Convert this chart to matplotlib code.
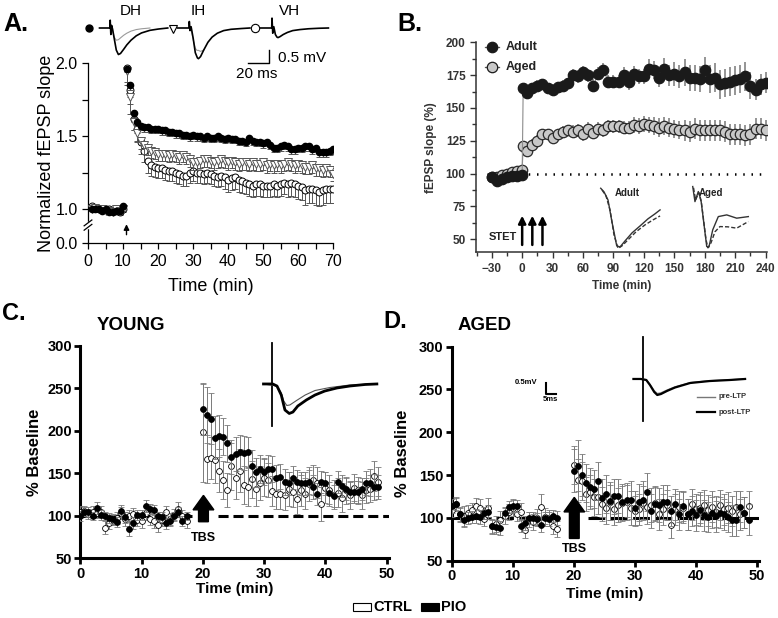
import numpy as np
import matplotlib
matplotlib.use("Agg")
import matplotlib.pyplot as plt
from matplotlib.patches import FancyArrow, Rectangle

plt.rcParams['font.family'] = ['Liberation Sans', 'DejaVu Sans']

W, H = 778, 618

# ---------------- panel A: normalized fEPSP slope, one point per minute
a_time = list(range(1, 71))
a_dh = [1.00, 1.00, 1.00, 0.99, 1.00, 0.98, 0.98, 0.99, 0.99, 1.02,
        1.96, 1.85, 1.66, 1.60,
        1.57, 1.56, 1.56, 1.55, 1.55, 1.55, 1.54, 1.54, 1.53, 1.53,
        1.52, 1.52, 1.51, 1.51, 1.50, 1.51, 1.50, 1.50, 1.49, 1.50,
        1.49, 1.49, 1.50, 1.49, 1.48, 1.49, 1.48, 1.48, 1.47, 1.47,
        1.46, 1.49, 1.47, 1.46, 1.46, 1.45, 1.46, 1.44, 1.42, 1.42,
        1.43, 1.44, 1.43, 1.41, 1.41, 1.42, 1.42, 1.43, 1.43, 1.41,
        1.42, 1.39, 1.39, 1.39, 1.40, 1.41]
a_ih = [1.00, 1.01, 1.00, 1.00, 0.99, 0.99, 0.98, 1.00, 0.99, 1.00,
        1.95, 1.77, 1.60, 1.52,
        1.47, 1.44, 1.42, 1.40, 1.39, 1.38, 1.38, 1.38, 1.37, 1.38,
        1.37, 1.36, 1.37, 1.36, 1.34, 1.32, 1.32, 1.33, 1.34, 1.34,
        1.33, 1.32, 1.33, 1.34, 1.33, 1.32, 1.33, 1.32, 1.31, 1.32,
        1.32, 1.31, 1.32, 1.31, 1.31, 1.32, 1.30, 1.31, 1.30, 1.31,
        1.30, 1.31, 1.32, 1.31, 1.30, 1.31, 1.30, 1.29, 1.29, 1.30,
        1.28, 1.28, 1.27, 1.28, 1.27, 1.24]
a_vh = [1.02, 1.01, 1.00, 1.00, 1.00, 1.00, 0.99, 1.00, 0.98, 1.00,
        1.97, 1.82, 1.62, 1.55,
        1.46, 1.40, 1.33, 1.30, 1.29, 1.28, 1.28, 1.27, 1.26, 1.26,
        1.25, 1.24, 1.23, 1.23, 1.25, 1.26, 1.25, 1.25, 1.24, 1.25,
        1.24, 1.23, 1.22, 1.23, 1.22, 1.20, 1.21, 1.22, 1.20, 1.19,
        1.18, 1.17, 1.16, 1.17, 1.17, 1.16, 1.16, 1.16, 1.17, 1.16,
        1.17, 1.18, 1.17, 1.18, 1.17, 1.16, 1.15, 1.13, 1.14, 1.14,
        1.13, 1.12, 1.13, 1.14, 1.14, 1.14]
# lower error bars only
a_dh_err = [0.01, 0.01, 0.01, 0.01, 0.01, 0.01, 0.01, 0.01, 0.01, 0.01,
            0.02, 0.03, 0.03, 0.03,
            0.03, 0.03, 0.03, 0.03, 0.03, 0.03, 0.03, 0.03, 0.03, 0.03,
            0.03, 0.03, 0.03, 0.03, 0.03, 0.03, 0.03, 0.03, 0.03, 0.03,
            0.03, 0.03, 0.03, 0.03, 0.03, 0.03, 0.03, 0.03, 0.03, 0.03,
            0.03, 0.03, 0.03, 0.03, 0.03, 0.03, 0.03, 0.03, 0.03, 0.03,
            0.03, 0.03, 0.03, 0.03, 0.03, 0.03, 0.03, 0.03, 0.03, 0.03,
            0.03, 0.03, 0.03, 0.03, 0.03, 0.03]
a_ih_err = [0.01, 0.01, 0.01, 0.01, 0.01, 0.01, 0.01, 0.01, 0.01, 0.01,
            0.08, 0.12, 0.06, 0.06,
            0.06, 0.06, 0.05, 0.05, 0.05, 0.05, 0.05, 0.05, 0.05, 0.05,
            0.05, 0.05, 0.05, 0.05, 0.05, 0.05, 0.05, 0.05, 0.05, 0.05,
            0.05, 0.05, 0.05, 0.05, 0.05, 0.05, 0.05, 0.05, 0.05, 0.05,
            0.05, 0.05, 0.05, 0.05, 0.05, 0.05, 0.05, 0.05, 0.05, 0.05,
            0.05, 0.05, 0.05, 0.05, 0.05, 0.05, 0.05, 0.05, 0.05, 0.05,
            0.05, 0.05, 0.05, 0.05, 0.05, 0.05]
a_vh_err = [0.02, 0.02, 0.02, 0.02, 0.02, 0.02, 0.02, 0.02, 0.02, 0.02,
            0.12, 0.10, 0.08, 0.08,
            0.08, 0.08, 0.08, 0.07, 0.07, 0.07, 0.07, 0.07, 0.07, 0.07,
            0.07, 0.07, 0.07, 0.07, 0.07, 0.07, 0.07, 0.07, 0.07, 0.07,
            0.07, 0.07, 0.07, 0.07, 0.08, 0.08, 0.08, 0.08, 0.08, 0.08,
            0.08, 0.08, 0.08, 0.08, 0.08, 0.08, 0.08, 0.08, 0.08, 0.08,
            0.08, 0.08, 0.09, 0.09, 0.09, 0.09, 0.09, 0.10, 0.10, 0.10,
            0.10, 0.10, 0.10, 0.10, 0.10, 0.10]

# example traces above panel A (ms after stimulus, mV)
dh_t = [-10, 0, 0.2, 0.8, 1.5, 2.5, 4, 6, 8, 10, 13, 16, 20, 25, 30, 38, 46, 55]
dh_v = [0, 0, 0.3, -0.25, 0.1, -0.05, -0.4, -0.85, -1.02, -0.98, -0.82, -0.65, -0.47, -0.3, -0.19, -0.09, -0.04, 0]
dh_pre_t = [0, 2, 4, 6, 8, 10, 13, 16, 20, 25, 30, 38]
dh_pre_v = [0, -0.05, -0.35, -0.47, -0.45, -0.38, -0.28, -0.2, -0.12, -0.06, -0.03, 0]
ih_t = [-11, 0, 0.3, 1, 2, 4, 6, 8, 9, 11, 14, 18, 22, 27, 33, 40, 50, 58]
ih_v = [0, 0, 0.25, -0.1, 0.05, -0.4, -0.95, -1.15, -1.18, -1.1, -0.85, -0.55, -0.35, -0.2, -0.1, -0.05, -0.02, 0]
ih_pre_t = [0, 2, 4, 6, 7.5, 9, 11, 14]
ih_pre_v = [0, -0.05, -0.45, -0.78, -0.86, -0.86, -0.9, -0.85]
vh_t = [-11, 0, 0.3, 1, 2, 3.5, 5, 6, 8, 11, 15, 20, 27, 35, 45, 54]
vh_v = [0, 0, 0.38, -0.2, 0.05, -0.25, -0.35, -0.37, -0.33, -0.25, -0.17, -0.1, -0.06, -0.03, -0.01, 0]

# ---------------- panel B: adult vs aged, 5 min bins
b_time = [-30, -25, -20, -15, -10, -5, 0, 1] + list(range(5, 245, 5))
b_adult = [97, 94, 96, 97, 98, 98, 99,
           165, 161, 165, 167, 168, 165, 164, 166, 167, 169,
           175, 174, 177, 175, 167, 176, 179, 170, 170, 170,
           175, 170, 176, 174, 174, 180, 179, 173, 180, 175,
           176, 174, 177, 173, 173, 172, 179, 172, 173, 168,
           169, 170, 171, 172, 174, 167, 164, 168, 169]
b_aged = [97, 97, 99, 100, 101, 102, 103,
          121, 117, 122, 125, 130, 130, 127, 130, 132, 133,
          132, 133, 130, 134, 131, 134, 133, 136, 136, 136,
          135, 135, 137, 136, 138, 137, 136, 135, 136, 135,
          134, 133, 133, 132, 134, 133, 133, 133, 133, 133,
          132, 130, 130, 130, 129, 130, 134, 134, 133]
b_adult_err = [2, 2, 2, 2, 2, 2, 2,
               4, 4, 4, 4, 4, 4, 4, 4, 4, 4,
               5, 5, 5, 5, 5, 5, 5, 5, 5, 5,
               6, 6, 6, 6, 6, 7, 7, 7, 8, 8,
               9, 9, 10, 10, 10, 10, 10, 11, 11, 11,
               11, 11, 11, 11, 11, 10, 8, 8, 8]
b_aged_err = [2, 2, 2, 2, 2, 2, 2,
              4, 4, 4, 4, 4, 4, 4, 4, 4, 4,
              5, 5, 5, 5, 5, 5, 5, 5, 5, 5,
              5, 5, 6, 6, 6, 6, 7, 7, 7, 7,
              7, 7, 8, 8, 8, 8, 8, 8, 8, 8,
              8, 8, 8, 8, 8, 8, 8, 8, 8]
# inset traces in panel B (drawn in the panel's own units)
b_tr_adult_x = [77.4, 80.7, 84.6, 88.5, 93.2, 96.5, 101.4, 108.3, 116.2, 124.0, 130.9, 135.9]
b_tr_adult_y = [88.8, 86.0, 79.9, 63.2, 44.9, 44.1, 48.7, 54.8, 60.1, 65.5, 69.3, 72.3]
b_tr_adult2_x = [78.7, 82.6, 86.6, 90.5, 94.5, 98.4, 104.3, 112.2, 121.1, 129.0, 135.9]
b_tr_adult2_y = [87.5, 83.0, 72.3, 53.3, 43.0, 44.9, 49.5, 55.6, 60.9, 64.7, 67.7]
b_tr_aged_x = [168.1, 170.3, 173.6, 176.2, 181.9, 184.1, 187.8, 193.3, 201.6, 211.4, 222.9]
b_tr_aged_y = [90.1, 78.6, 86.3, 79.9, 44.4, 44.1, 57.1, 67.2, 68.5, 66.0, 67.2]
b_tr_aged2_x = [168.9, 170.9, 174.1, 176.7, 181.2, 183.1, 186.1, 190.0, 194.9, 202.8, 211.4, 222.9]
b_tr_aged2_y = [89.1, 79.9, 85.5, 77.6, 49.5, 43.4, 47.2, 55.6, 59.6, 59.4, 58.4, 63.4]

# ---------------- panels C and D: % baseline, 40 s sampling
cd_base_t = np.arange(27) * 2 / 3
cd_post_t = 20 + np.arange(44) * 2 / 3

c_pio = [100, 105, 104, 100, 109, 101, 100, 97, 96, 93, 106, 98, 85, 92, 101, 101, 112, 108,
         107, 100, 99, 91, 94, 100, 104, 94, 100,
         225, 219, 214, 192, 194, 193, 185, 169, 173, 175, 174, 175, 159, 151, 155, 152, 155, 155,
         145, 146, 140, 138, 145, 140, 138, 138, 140, 134, 126, 140, 138, 127, 123, 140, 135, 132,
         128, 128, 128, 131, 139, 139, 134, 134]
c_ctrl = [104, 106, 102, 104, 103, 105, 86, 91, 95, 97, 103, 96, 100, 102, 95, 94, 103, 96,
          94, 89, 95, 104, 96, 101, 108, 100, 94,
          198, 167, 168, 166, 153, 142, 130, 158, 145, 153, 136, 134, 143, 132, 138, 145, 142, 129,
          126, 126, 125, 132, 128, 120, 130, 126, 137, 142, 139, 114, 133, 130, 125, 127, 121, 130,
          124, 133, 130, 124, 130, 132, 147, 140]
c_pio_err = [6, 5, 6, 5, 7, 6, 5, 6, 6, 6, 7, 6, 9, 7, 6, 6, 7, 6, 6, 5, 6, 6, 6, 5, 6, 6, 5,
             30, 33, 30, 25, 25, 22, 22, 20, 20, 20, 20, 18, 18, 17, 17, 16, 16, 15, 15, 15, 15, 14,
             14, 14, 14, 14, 14, 14, 13, 13, 13, 13, 13, 13, 13, 13, 13, 13, 13, 13, 14, 16, 15, 14]
c_ctrl_err = [7, 6, 6, 7, 6, 7, 8, 7, 6, 7, 7, 8, 7, 7, 7, 8, 8, 7, 8, 8, 7, 7, 7, 7, 8, 7, 8,
              58, 28, 25, 27, 25, 22, 20, 28, 25, 25, 22, 22, 22, 20, 20, 22, 20, 18, 18, 18, 18, 20,
              18, 18, 18, 18, 20, 18, 18, 20, 18, 18, 17, 17, 17, 16, 16, 16, 16, 16, 15, 16, 18, 17]

d_pio = [114, 116, 104, 97, 100, 101, 102, 101, 106, 107, 90, 89, 88, 106, 113, 114, 114, 91,
         94, 100, 100, 99, 92, 100, 99, 102, 100,
         155, 161, 150, 141, 136, 134, 143, 123, 128, 120, 125, 126, 118, 121, 121, 112, 118, 121,
         130, 108, 116, 115, 119, 118, 108, 116, 104, 114, 104, 108, 103, 109, 103, 101, 106, 102,
         106, 104, 101, 97, 97, 113, 106, 98]
d_ctrl = [109, 116, 104, 102, 106, 109, 114, 112, 99, 112, 90, 93, 98, 102, 107, 112, 105, 107,
          86, 98, 95, 100, 113, 101, 100, 91, 87,
          162, 144, 143, 128, 130, 124, 124, 116, 111, 118, 110, 115, 117, 118, 112, 108, 110, 117,
          113, 115, 117, 104, 110, 115, 92, 110, 113, 112, 104, 116, 110, 112, 115, 109, 113, 107,
          115, 110, 112, 108, 113, 104, 106, 114]
d_pio_err = [8, 7, 8, 8, 7, 7, 8, 8, 7, 8, 8, 8, 8, 7, 7, 7, 7, 8, 8, 7, 7, 7, 8, 7, 8, 7, 8,
             25, 30, 25, 22, 22, 22, 22, 22, 22, 22, 20, 20, 22, 20, 22, 20, 22, 22, 22, 20, 20, 20,
             20, 20, 18, 18, 18, 18, 18, 18, 18, 18, 18, 18, 18, 18, 18, 18, 18, 18, 18, 18, 18, 18]
d_ctrl_err = [8, 8, 9, 12, 9, 8, 9, 10, 9, 11, 9, 9, 10, 9, 9, 10, 9, 10, 9, 9, 9, 10, 15, 10, 9, 10, 9,
              22, 25, 22, 20, 20, 22, 20, 20, 18, 20, 18, 20, 20, 20, 20, 18, 18, 20, 20, 20, 20, 18,
              18, 18, 15, 18, 18, 18, 18, 18, 18, 18, 18, 18, 18, 18, 18, 18, 18, 18, 18, 18, 18, 18]

# inset traces in C and D (drawn in the panel's own units)
c_tr_post_x = [29.9, 31.1, 31.4, 32.1, 32.8, 33.4, 34.1, 34.7, 35.5, 36.9, 38.3, 39.9, 41.9, 44.0, 46.5, 48.4]
c_tr_post_y = [255, 255, 255, 252.6, 242, 224.4, 220.3, 222, 229.1, 236.2, 242, 246.7, 250.3, 252.6, 254.4, 255]
c_tr_pre_x = [29.9, 32.1, 32.8, 33.2, 33.7, 34.2, 35.3, 36.7, 38.3, 40.7, 44.0, 48.4]
c_tr_pre_y = [255, 252.6, 244.4, 235, 229.7, 230.3, 235.6, 242, 247.3, 250.8, 253.8, 255]
d_tr_post_x = [29.8, 31.0, 31.9, 32.5, 33.2, 33.7, 34.3, 35.3, 36.6, 39.1, 42.3, 45.6, 48.1]
d_tr_post_y = [262.3, 262.3, 261.1, 255.3, 247.1, 243.6, 244.7, 248.3, 252.3, 257.6, 259.9, 261.1, 262.3]
d_tr_pre_x = [29.8, 31.0, 31.9, 32.5, 33.2, 33.7, 34.3, 35.3, 36.6, 39.1, 42.3, 45.6, 48.1]
d_tr_pre_y = [262.3, 262.3, 261.5, 256, 248.5, 245.2, 246, 249.3, 253, 258, 260.2, 261.3, 262.3]


def box(x0, y0, x1, y1):
    return [x0 / W, 1 - y1 / H, (x1 - x0) / W, (y1 - y0) / H]


fig = plt.figure(figsize=(W / 100, H / 100), dpi=100)

# ================= A =================
Y0 = 0.765  # where "0.0" sits below the axis break
axA = fig.add_axes(box(88, 63.3, 333, 243.3))
n = len(a_time)
axA.errorbar(a_time, a_vh, yerr=[a_vh_err, [0] * n], fmt='o', ms=5, mfc='white', mec='black',
             mew=0.7, ecolor='#555555', elinewidth=0.7, capsize=2.2, capthick=0.7, zorder=3)
axA.errorbar(a_time, a_ih, yerr=[a_ih_err, [0] * n], fmt='v', ms=5.5, mfc='white', mec='#555555',
             mew=0.7, ecolor='#555555', elinewidth=0.7, capsize=2.2, capthick=0.7, zorder=4)
axA.errorbar(a_time, a_dh, yerr=[a_dh_err, [0] * n], fmt='o', ms=4.5, mfc='black', mec='black',
             ecolor='#555555', elinewidth=0.7, capsize=2.2, capthick=0.7, zorder=5)
axA.set_xlim(0, 70)
axA.set_ylim(Y0, 2.0)
axA.set_xticks(range(0, 71, 10))
axA.set_xticks(range(5, 70, 10), minor=True)
axA.set_yticks([Y0, 1.0, 1.5, 2.0])
axA.set_yticklabels(['0.0', '1.0', '1.5', '2.0'])
axA.set_yticks([1.25, 1.75], minor=True)
axA.tick_params(direction='out', length=4, width=0.9, labelsize=11.5)
axA.tick_params(which='minor', direction='out', length=4, width=0.9)
for s in ['top', 'right']:
    axA.spines[s].set_visible(False)
for s in ['left', 'bottom']:
    axA.spines[s].set_linewidth(0.9)
axA.set_ylabel('Normalized fEPSP slope', fontsize=13)
axA.yaxis.set_label_coords(-0.135, 0.5)
axA.set_xlabel('Time (min)', fontsize=13)
axA.xaxis.set_label_coords(0.5, -0.19)
# axis break
axA.plot([0, 0], [0.875, 0.905], color='white', lw=2.5, clip_on=False, zorder=6)
axA.plot([-1.1, 1.1], [0.855, 0.895], color='black', lw=0.9, clip_on=False, zorder=7)
axA.plot([-1.1, 1.1], [0.885, 0.925], color='black', lw=0.9, clip_on=False, zorder=7)
axA.annotate('', xy=(11, 0.915), xytext=(11, 0.805),
             arrowprops=dict(arrowstyle='-|>', color='black', lw=1, mutation_scale=8))

# ================= B =================
axB = fig.add_axes(box(476, 42.3, 766.7, 252.3))
gray_dk = '#333333'
axB.plot([-35, 241], [100, 100], color='black', lw=1.8, ls=(0, (0.6, 2.7)), zorder=1)
axB.errorbar(b_time, b_aged, yerr=b_aged_err, fmt='-o', color='#8c8c8c', lw=0.8, ms=7.5,
             mfc='#c8c8c8', mec='#2a2a2a', mew=0.9, ecolor='#8c8c8c', elinewidth=1.3,
             capsize=0, zorder=3)
axB.errorbar(b_time, b_adult, yerr=b_adult_err, fmt='-o', color='#8c8c8c', lw=0.8, ms=7.5,
             mfc='#1a1a1a', mec='#1a1a1a', mew=0.9, ecolor='#8c8c8c', elinewidth=1.3,
             capsize=0, zorder=4)
axB.set_xlim(-45.5, 241)
axB.set_ylim(40, 200)
axB.set_xticks(range(-30, 241, 30))
axB.set_xticks(range(-45, 241, 15), minor=True)
axB.set_yticks(range(50, 201, 25))
axB.set_yticks(np.arange(50, 200, 12.5), minor=True)
axB.tick_params(direction='out', length=4, width=1, colors=gray_dk, labelsize=8.5)
axB.tick_params(which='minor', direction='out', length=3, width=1, colors=gray_dk)
for lab in axB.get_xticklabels() + axB.get_yticklabels():
    lab.set_fontweight('bold')
for s in ['top', 'right']:
    axB.spines[s].set_visible(False)
for s in ['left', 'bottom']:
    axB.spines[s].set_linewidth(1.1)
    axB.spines[s].set_color(gray_dk)
axB.set_ylabel('fEPSP slope (%)', fontsize=8.5, fontweight='bold', color=gray_dk)
axB.yaxis.set_label_coords(-0.135, 0.5)
axB.set_xlabel('Time (min)', fontsize=8.5, fontweight='bold', color=gray_dk)
axB.xaxis.set_label_coords(0.5, -0.13)
# legend
for yy, fc, lab in [(196.5, '#1a1a1a', 'Adult'), (181.5, '#c8c8c8', 'Aged')]:
    axB.plot([-37, -23], [yy, yy], color='#555555', lw=0.9, clip_on=False, zorder=5)
    axB.plot([-30], [yy], 'o', ms=7.5, mfc=fc, mec='#1a1a1a', mew=0.9, clip_on=False, zorder=6)
    axB.text(-16, yy, lab, fontsize=9, fontweight='bold', color='#222222', va='center')
# STET arrows
for xa in [0, 10, 20]:
    axB.annotate('', xy=(xa, 70), xytext=(xa, 43.5),
                 arrowprops=dict(arrowstyle='-|>', color='black', lw=1.8, mutation_scale=11))
axB.text(-19.5, 51.5, 'STET', fontsize=8, fontweight='bold', ha='center', va='center', color='#222222')
# inset traces
axB.plot(b_tr_adult_x, b_tr_adult_y, color='#333333', lw=1.0)
axB.plot(b_tr_adult2_x, b_tr_adult2_y, color='#333333', lw=1.0, ls=(0, (3, 1.5)))
axB.plot(b_tr_aged_x, b_tr_aged_y, color='#333333', lw=1.0)
axB.plot(b_tr_aged2_x, b_tr_aged2_y, color='#333333', lw=1.0, ls=(0, (3, 1.5)))
axB.text(91.5, 85.5, 'Adult', fontsize=7, fontweight='bold', color='#222222', va='center')
axB.text(174, 85.5, 'Aged', fontsize=7, fontweight='bold', color='#222222', va='center')


# ================= C and D =================
def ltp_panel(ax, pio, ctrl, pio_err, ctrl_err, dash, arrow_bottom, tbs_y, ylab_x, xlab_y):
    t = np.concatenate([cd_base_t, cd_post_t])
    ax.plot([0, 18.2], [100, 100], color='black', lw=2.2, ls=(0, dash), zorder=2)
    ax.plot([22.4, 50.3], [100, 100], color='black', lw=2.2, ls=(0, dash), zorder=2)
    ax.errorbar(t, ctrl, yerr=ctrl_err, fmt='o', ms=4.2, mfc='white', mec='black', mew=0.6,
                ecolor='#7a7a7a', elinewidth=0.7, capsize=2, capthick=0.7, zorder=3)
    ax.errorbar(t, pio, yerr=pio_err, fmt='o', ms=4.2, mfc='black', mec='black', mew=0.6,
                ecolor='#7a7a7a', elinewidth=0.7, capsize=2, capthick=0.7, zorder=4)
    ax.add_patch(FancyArrow(20.1, arrow_bottom, 0, 124 - arrow_bottom, width=1.6, head_width=3.4,
                            head_length=17, length_includes_head=True, color='black', zorder=5))
    ax.text(20.1, tbs_y, 'TBS', fontsize=9, fontweight='bold', ha='center', va='center')
    ax.set_xlim(0, 50.3)
    ax.set_ylim(50, 300)
    ax.set_xticks(range(0, 51, 10))
    ax.set_yticks(range(50, 301, 50))
    ax.tick_params(direction='out', length=4, width=2, pad=2, labelsize=10.5)
    for lab in ax.get_xticklabels() + ax.get_yticklabels():
        lab.set_fontweight('bold')
    for s in ['top', 'right']:
        ax.spines[s].set_visible(False)
    for s in ['left', 'bottom']:
        ax.spines[s].set_linewidth(2.2)
    ax.set_ylabel('% Baseline', fontsize=12, fontweight='bold')
    ax.yaxis.set_label_coords(ylab_x, 0.5)
    ax.set_xlabel('Time (min)', fontsize=11, fontweight='bold')
    ax.xaxis.set_label_coords(0.5, xlab_y)


axC = fig.add_axes(box(80.3, 345.7, 388.5, 558.3))
ltp_panel(axC, c_pio, c_ctrl, c_pio_err, c_ctrl_err, (3.3, 1.6), 93, 74, -0.125, -0.11)
axC.plot([31.3, 31.3], [205, 303], color='black', lw=1.3, clip_on=False, zorder=6)
axC.plot(c_tr_pre_x, c_tr_pre_y, color='#555555', lw=0.8, zorder=6)
axC.plot(c_tr_post_x, c_tr_post_y, color='black', lw=2.0, zorder=6)

axD = fig.add_axes(box(451.7, 346.7, 758.5, 560.7))
ltp_panel(axD, d_pio, d_ctrl, d_pio_err, d_ctrl_err, (5.5, 1.8), 76, 64, -0.135, -0.125)
axD.plot([31.4, 31.4], [213.6, 311.7], color='black', lw=1.3, clip_on=False, zorder=6)
axD.plot(d_tr_pre_x, d_tr_pre_y, color='#777777', lw=1.0, zorder=6)
axD.plot(d_tr_post_x, d_tr_post_y, color='black', lw=1.6, zorder=6)
# scale bar and trace legend
axD.plot([15.4, 15.4, 17.1], [257.2, 244.4, 244.4], color='black', lw=1.5)
axD.text(14.1, 258, '0.5mV', fontsize=5.5, fontweight='bold', ha='right', va='center')
axD.text(16.2, 242, '5ms', fontsize=5.5, fontweight='bold', ha='center', va='top')
axD.plot([40.2, 43.2], [241.6, 241.6], color='#777777', lw=1.0)
axD.plot([40.2, 43.2], [223.4, 223.4], color='black', lw=1.6)
axD.text(43.8, 241.6, 'pre-LTP', fontsize=5.5, fontweight='bold', va='center', color='#333333')
axD.text(43.8, 223.4, 'post-LTP', fontsize=5.5, fontweight='bold', va='center', color='#333333')

# ================= overlay: traces above A, titles, letters, legend =================
ov = fig.add_axes([0, 0, 1, 1])
ov.set_xlim(0, W)
ov.set_ylim(H, 0)
ov.axis('off')

A_MS, A_MV, A_BASE = 1.05, 26.0, 28.0


def put_trace(x_stim, t, v, **kw):
    ov.plot([x_stim + ti * A_MS for ti in t], [A_BASE - vi * A_MV for vi in v], **kw)


put_trace(110, dh_pre_t, dh_pre_v, color='#9a9a9a', lw=0.8)
put_trace(110, dh_t, dh_v, color='black', lw=1.2)
put_trace(189, ih_pre_t, ih_pre_v, color='#9a9a9a', lw=0.8)
put_trace(189, ih_t, ih_v, color='black', lw=1.2)
put_trace(271.7, vh_t, vh_v, color='black', lw=1.2)
ov.plot([89], [28], 'o', ms=5, color='black')
ov.plot([172.7], [29], 'v', ms=6, mfc='white', mec='black', mew=0.8)
ov.plot([255], [28], 'o', ms=6, mfc='white', mec='black', mew=0.8)
ov.text(131, 11, 'DH', fontsize=11, ha='center', va='center')
ov.text(198, 11, 'IH', fontsize=11, ha='center', va='center')
ov.text(290, 11, 'VH', fontsize=11, ha='center', va='center')
ov.plot([248, 269, 269], [63, 63, 50], color='black', lw=1.0)
ov.text(278, 58, '0.5 mV', fontsize=11, va='center')
ov.text(257, 74, '20 ms', fontsize=11, ha='center', va='center')

ov.text(3, 24, 'A.', fontsize=18, fontweight='bold', va='center')
ov.text(397, 24, 'B.', fontsize=18, fontweight='bold', va='center')
ov.text(2, 314, 'C.', fontsize=17, fontweight='bold', va='center')
ov.text(383, 322, 'D.', fontsize=17, fontweight='bold', va='center')
ov.text(97, 325, 'YOUNG', fontsize=13.5, fontweight='bold', va='center')
ov.text(458, 326, 'AGED', fontsize=13.5, fontweight='bold', va='center')

ov.add_patch(Rectangle((353, 603), 18, 8, fc='white', ec='black', lw=0.8))
ov.text(373, 607, 'CTRL', fontsize=10.5, fontweight='bold', va='center')
ov.add_patch(Rectangle((421, 603), 18, 8, fc='black', ec='black', lw=0.8))
ov.text(441, 607, 'PIO', fontsize=10.5, fontweight='bold', va='center')

fig.savefig('out.png', dpi=100)
